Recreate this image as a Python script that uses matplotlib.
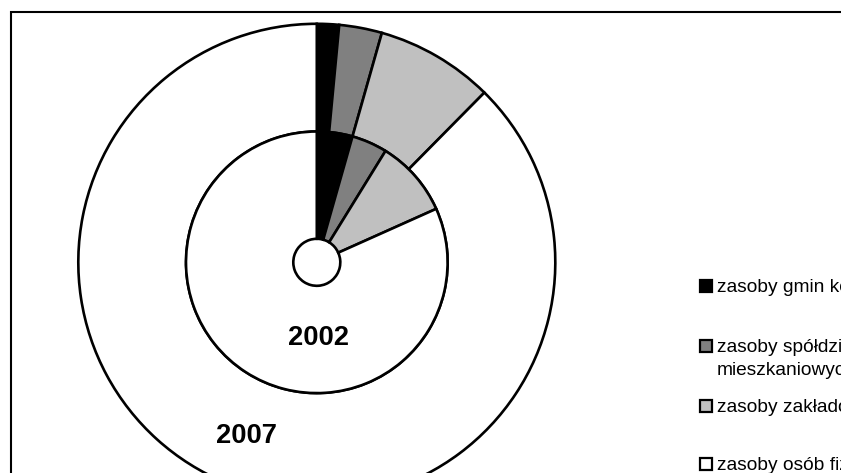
import matplotlib
matplotlib.use('Agg')
import matplotlib.pyplot as plt
from matplotlib.patches import Rectangle

# udzial zasobow mieszkaniowych wg form wlasnosci (%)
categories = ['zasoby gmin komunalne',
              'zasoby spółdzielni\nmieszkaniowych',
              'zasoby zakładów pracy',
              'zasoby osób fizycznych']
share_2002 = [4.4, 4.4, 9.5, 81.7]
share_2007 = [1.5, 2.9, 8.0, 87.6]
colors = ['#000000', '#808080', '#c0c0c0', '#ffffff']

W, H = 841, 473
fig = plt.figure(figsize=(W / 100, H / 100), dpi=100)
ax = fig.add_axes([0, 0, 1, 1])

cx, cy = 316.8, H - 262.3
r_out, r_mid, r_hole = 238.5, 130.8, 23.5
wp = dict(edgecolor='black', linewidth=1.9)

ax.pie(share_2007, colors=colors, startangle=90, counterclock=False,
       center=(cx, cy), radius=r_out,
       wedgeprops=dict(width=r_out - r_mid, **wp))
ax.pie(share_2002, colors=colors, startangle=90, counterclock=False,
       center=(cx, cy), radius=r_mid,
       wedgeprops=dict(width=r_mid - r_hole, **wp))

ax.set_xlim(0, W)
ax.set_ylim(0, H)
ax.set_aspect('equal')
ax.axis('off')

ax.text(318.5, H - 345, '2002', ha='center', va='baseline',
        family='Liberation Sans', weight='bold', fontsize=19.7)
ax.text(246.5, H - 443, '2007', ha='center', va='baseline',
        family='Liberation Sans', weight='bold', fontsize=19.7)

# ramka wykresu (przycieta z prawej i od dolu, jak w oryginale)
ax.plot([11, 11, W + 5], [-5, H - 12, H - 12], color='black', lw=1.5,
        clip_on=False, solid_joinstyle='miter')

# legenda - tekst wychodzi poza prawa krawedz tak jak na oryginale
leg_font = ['Liberation Sans Narrow', 'Liberation Sans']
leg_base = [292.5, 352, 412, 470]
for lab, col, yb in zip(categories, colors, leg_base):
    ax.add_patch(Rectangle((700.5, H - yb + 0.5), 12, 12, facecolor=col,
                           edgecolor='black', lw=1.6, clip_on=False))
    for i, line in enumerate(lab.split('\n')):
        ax.text(717, H - yb - 23 * i, line, ha='left', va='baseline',
                family=leg_font, fontsize=13.8, clip_on=False)

fig.savefig('out.png', dpi=100)
